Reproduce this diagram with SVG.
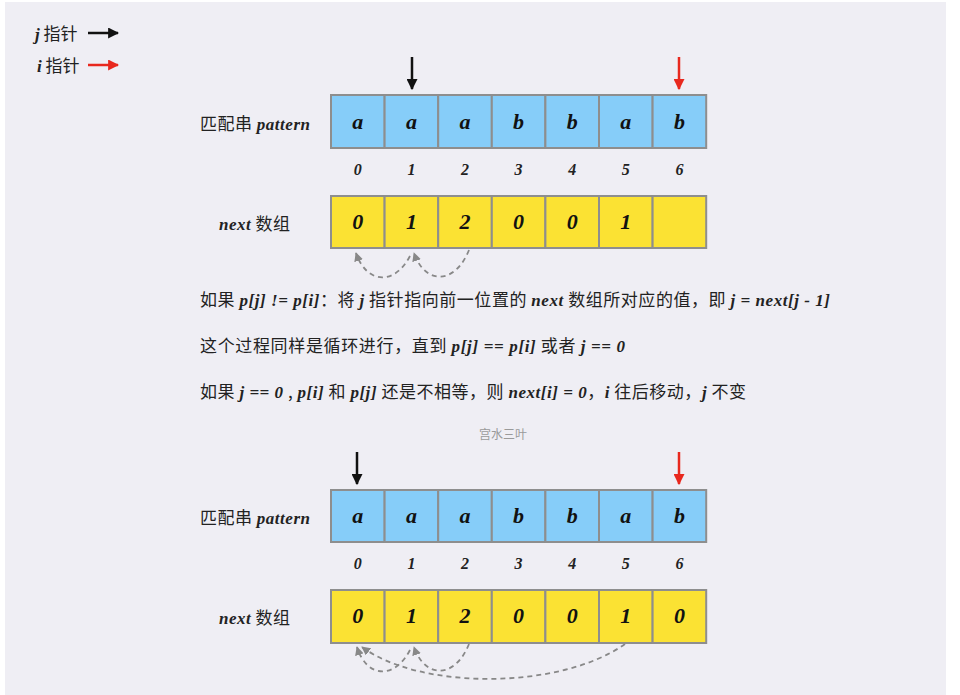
<svg xmlns="http://www.w3.org/2000/svg" width="960" height="695" viewBox="0 0 960 695">
<defs>
<style>
.bg{fill:#efeef4}
.cb{fill:#86cdf9;stroke:#8e8e8e;stroke-width:2}
.cy{fill:#fbe233;stroke:#8e8e8e;stroke-width:2}
.v{font-family:"Liberation Serif","Noto Serif",serif;font-style:italic;font-weight:bold;font-size:22px;fill:#111;text-anchor:middle}
.ix{font-family:"Liberation Serif",serif;font-style:italic;font-weight:bold;font-size:16px;fill:#222;text-anchor:middle}
.lb{font-family:"Noto Sans CJK SC","Liberation Sans",sans-serif;font-size:17px;fill:#222}
.it{font-family:"Liberation Serif",serif;font-style:italic;font-weight:bold}
.wm{font-family:"Noto Sans CJK SC",sans-serif;font-size:12px;fill:#9a9a9a;text-anchor:middle}
.pk{stroke:#111;stroke-width:2.5;fill:none}
.pr{stroke:#e8281e;stroke-width:2.5;fill:none}
.ds{stroke:#888;stroke-width:1.8;fill:none;stroke-dasharray:5 4}
</style>
<marker id="mk" viewBox="0 0 10 10" refX="9" refY="5" markerWidth="4.4" markerHeight="4.4" orient="auto" markerUnits="strokeWidth"><path d="M0,0L10,5L0,10z" fill="#111"/></marker>
<marker id="mr" viewBox="0 0 10 10" refX="9" refY="5" markerWidth="4.4" markerHeight="4.4" orient="auto" markerUnits="strokeWidth"><path d="M0,0L10,5L0,10z" fill="#e8281e"/></marker>
<marker id="mg" viewBox="0 0 10 10" refX="9" refY="5" markerWidth="5" markerHeight="5" orient="auto" markerUnits="strokeWidth"><path d="M0,0L10,5L0,10z" fill="#888"/></marker>
</defs>
<rect x="0" y="0" width="960" height="695" fill="#ffffff"/>
<rect class="bg" x="5" y="2" width="941" height="693"/>

<g id="legend">
<text class="lb" x="35" y="40"><tspan class="it">j</tspan> 指针</text>
<text class="lb" x="37" y="72"><tspan class="it">i</tspan> 指针</text>
<path class="pk" d="M88,33H118" marker-end="url(#mk)"/>
<path class="pr" d="M88,65H118" marker-end="url(#mr)"/>
</g>

<g id="top-labels">
<text class="lb" x="200" y="130" textLength="110">匹配串 <tspan class="it">pattern</tspan></text>
<text class="lb" x="219" y="230" textLength="71"><tspan class="it">next</tspan> 数组</text>
</g>

<g id="top-pattern">
<rect class="cb" x="331" y="95" width="53.6" height="53"/>
<rect class="cb" x="384.6" y="95" width="53.6" height="53"/>
<rect class="cb" x="438.2" y="95" width="53.6" height="53"/>
<rect class="cb" x="491.8" y="95" width="53.6" height="53"/>
<rect class="cb" x="545.4" y="95" width="53.6" height="53"/>
<rect class="cb" x="599" y="95" width="53.6" height="53"/>
<rect class="cb" x="652.6" y="95" width="53.6" height="53"/>
<text class="v" x="357.8" y="129">a</text>
<text class="v" x="411.4" y="129">a</text>
<text class="v" x="465" y="129">a</text>
<text class="v" x="518.6" y="129">b</text>
<text class="v" x="572.2" y="129">b</text>
<text class="v" x="625.8" y="129">a</text>
<text class="v" x="679.4" y="129">b</text>
</g>
<g id="top-index">
<text class="ix" x="357.8" y="175">0</text>
<text class="ix" x="411.4" y="175">1</text>
<text class="ix" x="465" y="175">2</text>
<text class="ix" x="518.6" y="175">3</text>
<text class="ix" x="572.2" y="175">4</text>
<text class="ix" x="625.8" y="175">5</text>
<text class="ix" x="679.4" y="175">6</text>
</g>
<g id="top-next">
<rect class="cy" x="331" y="196" width="53.6" height="52"/>
<rect class="cy" x="384.6" y="196" width="53.6" height="52"/>
<rect class="cy" x="438.2" y="196" width="53.6" height="52"/>
<rect class="cy" x="491.8" y="196" width="53.6" height="52"/>
<rect class="cy" x="545.4" y="196" width="53.6" height="52"/>
<rect class="cy" x="599" y="196" width="53.6" height="52"/>
<rect class="cy" x="652.6" y="196" width="53.6" height="52"/>
<text class="v" x="357.8" y="229">0</text>
<text class="v" x="411.4" y="229">1</text>
<text class="v" x="465" y="229">2</text>
<text class="v" x="518.6" y="229">0</text>
<text class="v" x="572.2" y="229">0</text>
<text class="v" x="625.8" y="229">1</text>
</g>

<g id="text-lines">
<text class="lb" x="200" y="306" textLength="630">如果 <tspan class="it">p[j] != p[i]</tspan>：将 <tspan class="it">j</tspan> 指针指向前一位置的 <tspan class="it">next</tspan> 数组所对应的值，即 <tspan class="it">j = next[j - 1]</tspan></text>
<text class="lb" x="200" y="352" textLength="425">这个过程同样是循环进行，直到 <tspan class="it">p[j] == p[i]</tspan> 或者 <tspan class="it">j  == 0</tspan></text>
<text class="lb" x="200" y="398" textLength="546">如果 <tspan class="it">j == 0</tspan> , <tspan class="it">p[i]</tspan> 和 <tspan class="it">p[j]</tspan> 还是不相等，则 <tspan class="it">next[i] = 0</tspan>，<tspan class="it">i</tspan> 往后移动，<tspan class="it">j</tspan> 不变</text>
</g>

<g id="watermark"><text class="wm" x="503" y="439">宫水三叶</text></g>

<g id="bottom-labels">
<text class="lb" x="200" y="524" textLength="110">匹配串 <tspan class="it">pattern</tspan></text>
<text class="lb" x="219" y="624" textLength="71"><tspan class="it">next</tspan> 数组</text>
</g>
<g id="bottom-pattern">
<rect class="cb" x="331" y="490" width="53.6" height="52"/>
<rect class="cb" x="384.6" y="490" width="53.6" height="52"/>
<rect class="cb" x="438.2" y="490" width="53.6" height="52"/>
<rect class="cb" x="491.8" y="490" width="53.6" height="52"/>
<rect class="cb" x="545.4" y="490" width="53.6" height="52"/>
<rect class="cb" x="599" y="490" width="53.6" height="52"/>
<rect class="cb" x="652.6" y="490" width="53.6" height="52"/>
<text class="v" x="357.8" y="523">a</text>
<text class="v" x="411.4" y="523">a</text>
<text class="v" x="465" y="523">a</text>
<text class="v" x="518.6" y="523">b</text>
<text class="v" x="572.2" y="523">b</text>
<text class="v" x="625.8" y="523">a</text>
<text class="v" x="679.4" y="523">b</text>
</g>
<g id="bottom-index">
<text class="ix" x="357.8" y="569">0</text>
<text class="ix" x="411.4" y="569">1</text>
<text class="ix" x="465" y="569">2</text>
<text class="ix" x="518.6" y="569">3</text>
<text class="ix" x="572.2" y="569">4</text>
<text class="ix" x="625.8" y="569">5</text>
<text class="ix" x="679.4" y="569">6</text>
</g>
<g id="bottom-next">
<rect class="cy" x="331" y="590" width="53.6" height="53"/>
<rect class="cy" x="384.6" y="590" width="53.6" height="53"/>
<rect class="cy" x="438.2" y="590" width="53.6" height="53"/>
<rect class="cy" x="491.8" y="590" width="53.6" height="53"/>
<rect class="cy" x="545.4" y="590" width="53.6" height="53"/>
<rect class="cy" x="599" y="590" width="53.6" height="53"/>
<rect class="cy" x="652.6" y="590" width="53.6" height="53"/>
<text class="v" x="357.8" y="623">0</text>
<text class="v" x="411.4" y="623">1</text>
<text class="v" x="465" y="623">2</text>
<text class="v" x="518.6" y="623">0</text>
<text class="v" x="572.2" y="623">0</text>
<text class="v" x="625.8" y="623">1</text>
<text class="v" x="679.4" y="623">0</text>
</g>

<g id="connectors">
<path class="pk" d="M412,57V89" marker-end="url(#mk)"/>
<path class="pr" d="M679,57V89" marker-end="url(#mr)"/>
<path class="pk" d="M357,452V484" marker-end="url(#mk)"/>
<path class="pr" d="M679,452V484" marker-end="url(#mr)"/>
<path class="ds" d="M469,250C455,285 425,285 414,253" marker-end="url(#mg)"/>
<path class="ds" d="M410,256C395,285 367,285 356,253" marker-end="url(#mg)"/>
<path class="ds" d="M469,644C455,679 425,679 414,647" marker-end="url(#mg)"/>
<path class="ds" d="M410,650C395,679 367,679 357,647" marker-end="url(#mg)"/>
<path class="ds" d="M625,644C560,690 420,690 362,647" marker-end="url(#mg)"/>
</g>
</svg>
